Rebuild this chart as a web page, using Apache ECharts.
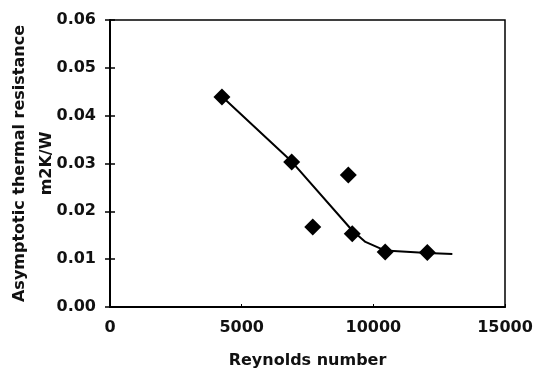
<!DOCTYPE html>
<html>
<head>
<meta charset="utf-8">
<script src="https://cdn.jsdelivr.net/npm/echarts@6/dist/echarts.min.js"></script>
<style>
  html, body { margin: 0; padding: 0; background: #fff; }
  #chart { width: 537px; height: 380px; }
</style>
</head>
<body>
<div id="chart"></div>
<script>
// measured points
const reynolds = [4250, 6900, 7700, 9050, 9200, 10450, 12050];
const resistance = [0.0439, 0.0303, 0.0167, 0.0276, 0.0153, 0.0115, 0.0114];

// fitted trend line
const trendX = [4250, 6900, 9200, 9700, 10450, 12050, 13000];
const trendY = [0.0440, 0.0304, 0.0160, 0.0136, 0.0118, 0.0113, 0.0111];

const xTicks = [0, 5000, 10000, 15000];
const yTicks = [0, 0.01, 0.02, 0.03, 0.04, 0.05, 0.06];

const chart = echarts.init(document.getElementById('chart'));

const font = {
  fontFamily: 'DejaVu Sans',
  fontWeight: 'bold',
  fontSize: 16,
  color: '#111'
};

const option = {
  backgroundColor: '#fff',
  animation: false,
  grid: {
    left: 110,
    right: 32,
    top: 20,
    bottom: 73,
    outerBoundsMode: 'none',
    containLabel: false,
    show: true,
    borderColor: '#000',
    borderWidth: 1.5
  },
  xAxis: {
    type: 'value',
    min: xTicks[0],
    max: xTicks[xTicks.length - 1],
    interval: 5000,
    name: 'Reynolds number',
    nameLocation: 'middle',
    nameGap: 46,
    nameMoveOverlap: false,
    nameTextStyle: font,
    axisLine: { lineStyle: { color: '#000', width: 2 } },
    axisTick: { inside: true, length: 3, lineStyle: { color: '#000' } },
    axisLabel: Object.assign({ margin: 13, formatter: v => String(v) }, font),
    splitLine: { show: false }
  },
  yAxis: [
    {
      type: 'value',
      min: yTicks[0],
      max: yTicks[yTicks.length - 1],
      interval: 0.01,
      name: 'Asymptotic thermal resistance\nm2K/W',
      nameLocation: 'middle',
      nameGap: 50,
      nameMoveOverlap: false,
      nameTextStyle: Object.assign({ lineHeight: 27 }, font),
      axisLine: { lineStyle: { color: '#000', width: 2 } },
      axisTick: { length: 5, lineStyle: { color: '#000', width: 1.5 } },
      axisLabel: Object.assign({
        margin: 14,
        formatter: v => v.toFixed(2)
      }, font),
      splitLine: { show: false }
    },
    {
      type: 'value',
      position: 'left',
      min: yTicks[0],
      max: yTicks[yTicks.length - 1],
      interval: 0.01,
      axisLine: { show: false },
      axisTick: { inside: true, length: 5, lineStyle: { color: '#000', width: 1.5 } },
      axisLabel: { show: false },
      splitLine: { show: false }
    }
  ],
  series: [
    {
      type: 'line',
      data: trendX.map((x, i) => [x, trendY[i]]),
      showSymbol: false,
      smooth: false,
      lineStyle: { color: '#000', width: 2 },
      z: 2
    },
    {
      type: 'scatter',
      data: reynolds.map((x, i) => [x, resistance[i]]),
      symbol: 'diamond',
      symbolSize: 17,
      itemStyle: { color: '#000', opacity: 1 },
      z: 3
    }
  ]
};

chart.setOption(option);
</script>
</body>
</html>
